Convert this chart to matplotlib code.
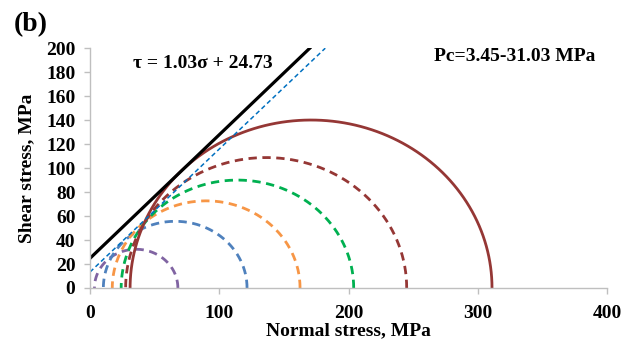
import numpy as np
import matplotlib
matplotlib.use("Agg")
import matplotlib.pyplot as plt

plt.rcParams['font.family'] = ['Liberation Serif', 'DejaVu Serif']
plt.rcParams['font.weight'] = 'bold'

# Mohr circles: minor (confining) and major principal stresses, MPa
sigma3 = [3.45, 10.34, 17.24, 24.13, 27.58, 31.03]
sigma1 = [68.0, 121.5, 162.5, 204.0, 245.0, 311.0]
circle_colors = ['#8064A2', '#4F81BD', '#F79646', '#00B050', '#953735', '#953735']
circle_styles = ['--', '--', '--', '--', '--', '-']

# failure envelope tau = a*sigma + c
env_slope = 1.03
env_intercept = 24.73
env_sigma = [0, 170]

# second (dashed) envelope
env2_slope = 1.025
env2_intercept = 13.3
env2_sigma = [0, 182]

fig = plt.figure(figsize=(6.35, 3.42), dpi=100)
ax = fig.add_axes([0.1417, 0.1579, 0.8143, 0.7017])

theta = np.linspace(0, np.pi, 300)
for s3, s1, c, ls in zip(sigma3, sigma1, circle_colors, circle_styles):
    center = (s1 + s3) / 2
    r = (s1 - s3) / 2
    ax.plot(center + r * np.cos(theta), r * np.sin(theta), color=c, ls=ls,
            lw=2.0, dashes=(3, 2) if ls == '--' else (None, None))

xs = np.array(env2_sigma)
ax.plot(xs, env2_slope * xs + env2_intercept, color='#0070C0', lw=1.1, ls='--',
        dashes=(3, 2))
xs = np.array(env_sigma)
ax.plot(xs, env_slope * xs + env_intercept, color='black', lw=2.3)

ax.set_xlim(0, 400)
ax.set_ylim(0, 200)
ax.set_xticks(np.arange(0, 401, 100))
ax.set_yticks(np.arange(0, 201, 20))

for side in ['top', 'right']:
    ax.spines[side].set_visible(False)
for side in ['left', 'bottom']:
    ax.spines[side].set_color('#BFBFBF')
    ax.spines[side].set_linewidth(1.0)
ax.tick_params(colors='#BFBFBF', labelcolor='black', length=4.5, width=1.0,
               labelsize=14)
ax.tick_params(axis='y', pad=6)
ax.tick_params(axis='x', pad=8)

ax.set_xlabel('Normal stress, MPa', fontsize=14, fontweight='bold', labelpad=0)
ax.set_ylabel('Shear stress, MPa', fontsize=14, fontweight='bold', labelpad=8)

ax.text(33, 187, 'τ = 1.03σ + 24.73', fontsize=14, fontweight='bold',
        va='center', ha='left')
ax.text(266, 193, 'Pc=3.45-31.03 MPa', fontsize=14, fontweight='bold',
        va='center', ha='left')
fig.text(0.022, 0.927, '(b)', fontsize=20, fontweight='bold', va='center')

fig.savefig('out.png', dpi=100)
